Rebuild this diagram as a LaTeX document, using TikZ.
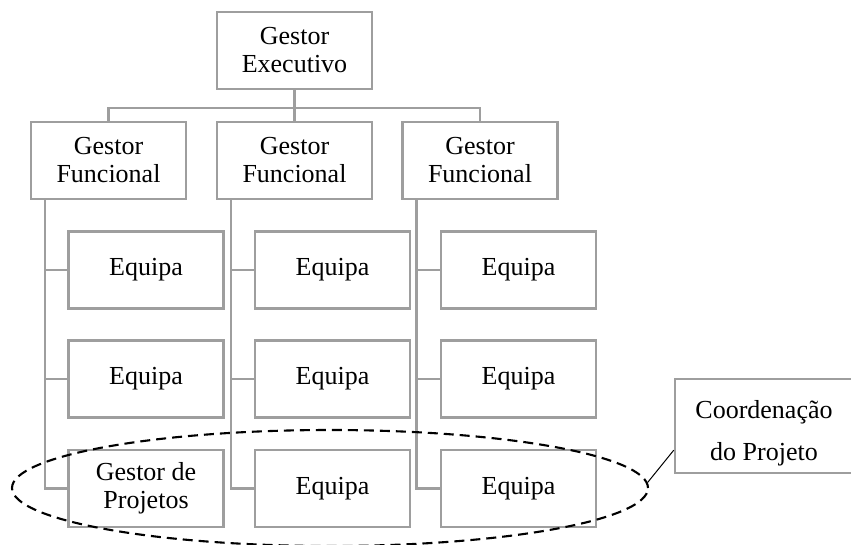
\documentclass[tikz,border=0pt]{standalone}
\usepackage{fontspec}
\setmainfont{Liberation Serif}
\usetikzlibrary{shapes.geometric,calc}
\definecolor{boxgray}{RGB}{158,158,158}
\tikzset{
  orgbox/.style={draw=boxgray, line width=2.5pt, fill=white, inner sep=0pt,
    minimum width=155pt, minimum height=77pt, align=center,
    font=\fontsize{26}{28}\selectfont},
  link/.style={draw=boxgray, line width=2.5pt},
  notebox/.style={draw=boxgray, line width=2.5pt, fill=white, inner sep=0pt,
    minimum width=178pt, minimum height=94pt, align=center,
    font=\fontsize{26}{42}\selectfont},
  groupring/.style={ellipse, draw=black, line width=2.1pt, dash pattern=on 10pt off 6pt,
    inner sep=0pt, minimum width=636pt, minimum height=116pt},
}
\begin{document}
\begin{tikzpicture}[x=1pt, y=-1pt]
\useasboundingbox (0,0) rectangle (851,544);

% top level
\node[orgbox] (ge) at (294.5,50.5) {Gestor\\Executivo};

% functional managers
\node[orgbox] (gf1) at (108.5,160.5) {Gestor\\Funcional};
\node[orgbox] (gf2) at (294.5,160.5) {Gestor\\Funcional};
\node[orgbox] (gf3) at (480,160.5) {Gestor\\Funcional};

% teams, column by column
\node[orgbox] (e11) at (146,270) {Equipa};
\node[orgbox] (e12) at (146,379) {Equipa};
\node[orgbox] (e13) at (146,488.5) {Gestor de\\Projetos};
\node[orgbox] (e21) at (332.5,270) {Equipa};
\node[orgbox] (e22) at (332.5,379) {Equipa};
\node[orgbox] (e23) at (332.5,488.5) {Equipa};
\node[orgbox] (e31) at (518.5,270) {Equipa};
\node[orgbox] (e32) at (518.5,379) {Equipa};
\node[orgbox] (e33) at (518.5,488.5) {Equipa};

% bus between executive and functional managers
\coordinate (bus) at (0,108);
\draw[link] (ge.south) -- (ge.south |- bus);
\draw[link] (gf1.north) -- (gf1.north |- bus) -- (gf3.north |- bus) -- (gf3.north);
\draw[link] (gf2.north) -- (gf2.north |- bus);

% column spines
\foreach \g/\a/\b/\c in {gf1/e11/e12/e13, gf2/e21/e22/e23, gf3/e31/e32/e33}{
  \coordinate (sp) at ($(\g.south west)+(15,0)$);
  \draw[link] (sp) |- (\c.west);
  \draw[link] (sp |- \a.west) -- (\a.west);
  \draw[link] (sp |- \b.west) -- (\b.west);
}

% project coordination group
\node[groupring] (grp) at (330,488) {};
\node[notebox] (cp) at (764,426) {\rule{0pt}{33pt}Coordenação\\do Projeto};
\draw[black, line width=1pt] (grp.1.5) -- (cp.195);
\end{tikzpicture}
\end{document}
